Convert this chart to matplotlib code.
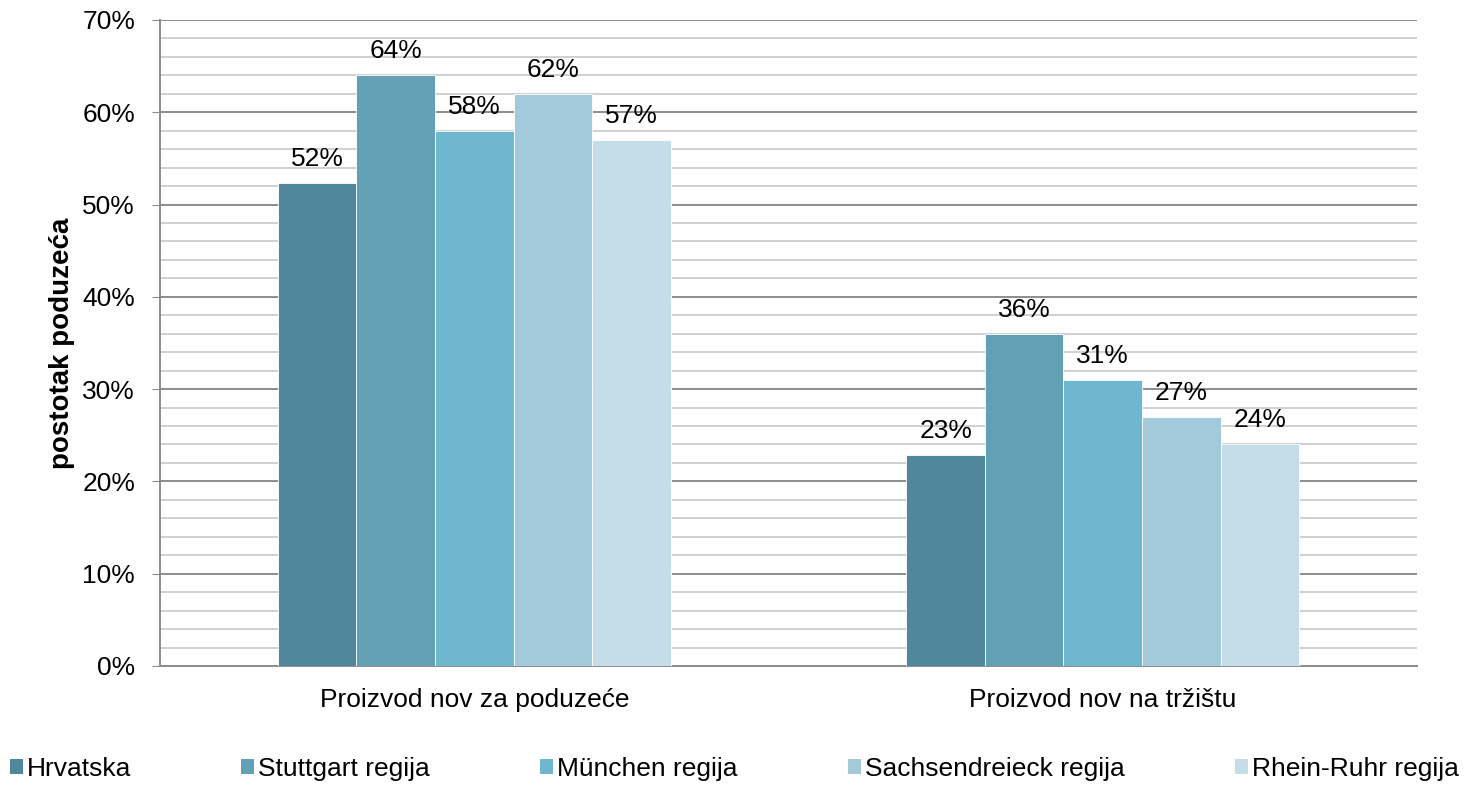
import numpy as np
import matplotlib.pyplot as plt
from matplotlib.patches import Patch

plt.rcParams['font.family'] = ['Liberation Sans', 'DejaVu Sans']

categories = ["Proizvod nov za poduzeće", "Proizvod nov na tržištu"]
series = ["Hrvatska", "Stuttgart regija", "München regija",
          "Sachsendreieck regija", "Rhein-Ruhr regija"]
values = [
    [52.3, 22.9],
    [64.0, 36.0],
    [58.0, 31.0],
    [62.0, 27.0],
    [57.0, 24.0],
]
labels = [
    ["52%", "23%"],
    ["64%", "36%"],
    ["58%", "31%"],
    ["62%", "27%"],
    ["57%", "24%"],
]
colors = ["#50879a", "#62a1b5", "#6fb6cf", "#a2cadb", "#c4dde9"]

fs = 19

fig = plt.figure(figsize=(14.64, 7.86), dpi=100)
ax = fig.add_axes([0.1093, 0.1527, 0.8586, 0.8219])

x = np.arange(len(categories))
w = 0.125
for i, (name, vals) in enumerate(zip(series, values)):
    pos = x + (i - 2) * w
    ax.bar(pos, vals, width=w, color=colors[i], edgecolor="white",
           linewidth=0.6, zorder=3)
    for px, v, lab in zip(pos, vals, labels[i]):
        ax.text(px, v + 1.3, lab, ha="center", va="bottom", fontsize=fs,
                color="black", zorder=4)

ax.set_xlim(-0.5, 1.5)
ax.set_ylim(0, 70)
ax.set_xticks(x)
ax.set_xticklabels(categories, fontsize=fs)
ax.tick_params(axis="x", length=0, pad=16)

ax.set_yticks(np.arange(0, 71, 10))
ax.set_yticklabels([f"{v}%" for v in range(0, 71, 10)], fontsize=fs)
ax.set_yticks(np.arange(0, 71, 2), minor=True)
ax.tick_params(axis="y", which="major", length=6, color="#8c8c8c",
               direction="out", pad=12)
ax.tick_params(axis="y", which="minor", length=0)

ax.grid(axis="y", which="minor", color="#c8c8c8", linewidth=1.2, zorder=0)
ax.grid(axis="y", which="major", color="#8c8c8c", linewidth=1.4, zorder=1)
ax.set_axisbelow(True)

for s in ["top", "right"]:
    ax.spines[s].set_visible(False)
ax.spines["left"].set_color("#8c8c8c")
ax.spines["left"].set_linewidth(1.4)
ax.spines["bottom"].set_color("#8c8c8c")
ax.spines["bottom"].set_linewidth(1.4)

ax.set_ylabel("postotak poduzeća", fontsize=20, fontweight="bold", labelpad=5)

handles = [Patch(facecolor=c, edgecolor="none") for c in colors]
fig.legend(handles, series, loc="lower left", ncol=5, mode="expand",
           bbox_to_anchor=(0.003, 0.0, 0.997, 0.04), frameon=False,
           fontsize=fs, handlelength=0.5, handleheight=0.5,
           handletextpad=0.15, borderaxespad=0.0, borderpad=0.2)

fig.savefig("out.png", dpi=100)
